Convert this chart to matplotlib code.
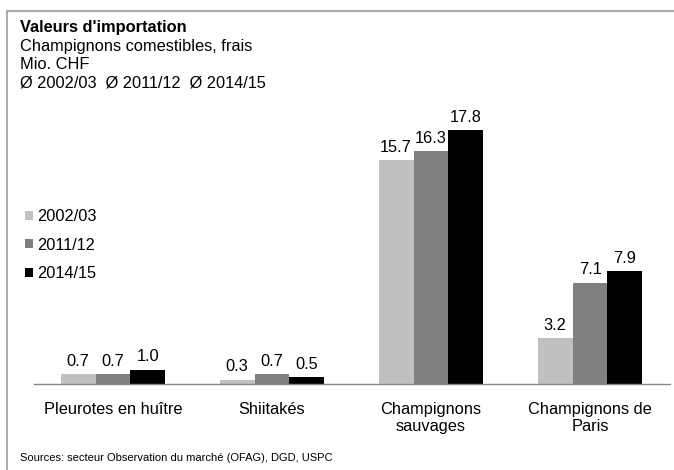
import matplotlib
matplotlib.use("Agg")
import matplotlib.pyplot as plt
import numpy as np

categories = ["Pleurotes en huître", "Shiitakés", "Champignons\nsauvages", "Champignons de\nParis"]
series_names = ["2002/03", "2011/12", "2014/15"]
v2002 = [0.7, 0.3, 15.7, 3.2]
v2011 = [0.7, 0.7, 16.3, 7.1]
v2014 = [1.0, 0.5, 17.8, 7.9]
colors = ["#c0c0c0", "#808080", "#000000"]

plt.rcParams['font.family'] = ['Liberation Sans', 'DejaVu Sans']
FS = 11.8

fig = plt.figure(figsize=(6.74, 4.70), dpi=100)
W, H = 674, 470
base_y = 384
top_y = 100
ax = fig.add_axes([33.5 / W, (H - base_y) / H, 636 / W, (base_y - top_y) / H])
ppu = 254 / 17.8
ax.set_ylim(0, (base_y - top_y) / ppu)
ax.set_xlim(-0.5, len(categories) - 0.5)

x = np.arange(len(categories))
bw = 0.22
for i, (vals, c) in enumerate(zip([v2002, v2011, v2014], colors)):
    pos = x + (i - 1) * bw
    ax.bar(pos, vals, width=bw, color=c, label=series_names[i], zorder=2)
    for p, v in zip(pos, vals):
        ax.annotate(f"{v:.1f}", (p, v), xytext=(0, 6), textcoords="offset points",
                    ha="center", va="baseline", fontsize=FS)

for s in ["top", "right", "left"]:
    ax.spines[s].set_visible(False)
ax.spines["bottom"].set_color("#888888")
ax.spines["bottom"].set_linewidth(1.0)
ax.set_yticks([])
ax.set_xticks(x)
ax.set_xticklabels(categories, fontsize=FS, linespacing=1.2)
ax.tick_params(axis="x", length=0, pad=13)

leg = ax.legend(loc="upper left", bbox_to_anchor=(25 / W, 1 - 209 / H), bbox_transform=fig.transFigure,
                frameon=False, fontsize=FS, handlelength=0.5, handleheight=0.5, handletextpad=0.25,
                labelspacing=0.83, borderaxespad=0, borderpad=0)

# border lines (top and left)
fig.add_artist(plt.Line2D([7 / W, 1], [1 - 11 / H, 1 - 11 / H], transform=fig.transFigure, color="#aaaaaa", lw=1.5))
fig.add_artist(plt.Line2D([7 / W, 7 / W], [1 - 11 / H, 0], transform=fig.transFigure, color="#aaaaaa", lw=1.5))

fig.text(20 / W, 1 - 32 / H, "Valeurs d'importation", fontsize=FS, fontweight="bold", va="baseline", ha="left")
fig.text(20 / W, 1 - 50.5 / H, "Champignons comestibles, frais", fontsize=FS, va="baseline", ha="left")
fig.text(20 / W, 1 - 69 / H, "Mio. CHF", fontsize=FS, va="baseline", ha="left")
fig.text(20 / W, 1 - 87.5 / H, "Ø 2002/03  Ø 2011/12  Ø 2014/15", fontsize=FS, va="baseline", ha="left")
fig.text(20 / W, 1 - 458 / H, "Sources: secteur Observation du marché (OFAG), DGD, USPC", fontsize=8.0, va="center", ha="left")

fig.savefig("out.png", dpi=100)
